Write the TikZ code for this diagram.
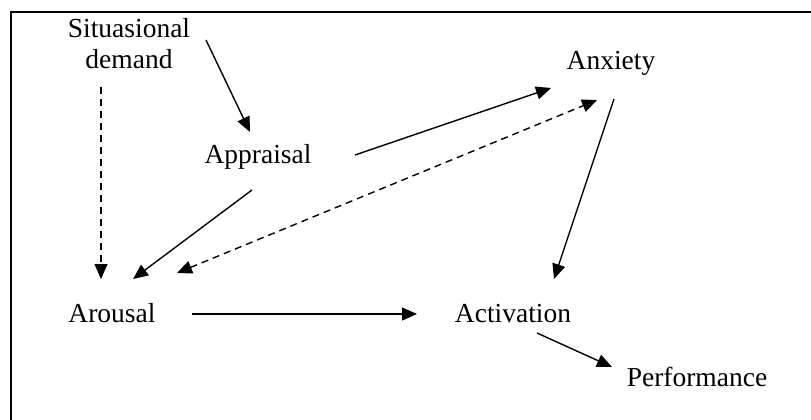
\documentclass[tikz,border=0pt]{standalone}
\usepackage{fontspec}
\setmainfont{Liberation Serif}
\usetikzlibrary{arrows.meta,calc}
\begin{document}
\begin{tikzpicture}[x=1pt,y=-1pt,
  lbl/.style={inner sep=0pt,anchor=base,font=\fontsize{27.5}{30}\selectfont},
  arr/.style={line width=1.4pt,-{Triangle[length=15pt,width=13pt]}},
  darr/.style={arr,dash pattern=on 7pt off 5pt},
  frame/.style={line width=2pt}]
\useasboundingbox (0,0) rectangle (811,420);
\draw[frame] (811,12) -- (11,12) -- (11,420);
\node[lbl,align=center] (sit) at (129,68) {Situasional\\demand};
\node[lbl] (app) at (258,163) {Appraisal};
\node[lbl] (anx) at (611,70) {Anxiety};
\node[lbl] (aro) at (112,322) {Arousal};
\node[lbl] (act) at (513,322) {Activation};
\node[lbl] (perf) at (697,386) {Performance};
\draw[arr] ($(sit.base)+(77,-28)$) -- ($(app.base)+(-8,-31)$);
\draw[darr] ($(sit.base)+(-28,19)$) -- ($(aro.base)+(-11,-43)$);
\draw[arr] ($(app.base)+(-6,27)$) -- ($(aro.base)+(21,-43)$);
\draw[arr] ($(app.base)+(97,-8)$) -- ($(anx.base)+(-60,18)$);
\draw[darr,{Triangle[length=15pt,width=13pt]}-{Triangle[length=15pt,width=13pt]}] ($(aro.base)+(65,-49)$) -- ($(anx.base)+(-14,30)$);
\draw[arr] ($(anx.base)+(3,29)$) -- ($(act.base)+(41,-43)$);
\draw[arr] ($(aro.base)+(80,-8)$) -- ($(act.base)+(-96,-8)$);
\draw[arr] ($(act.base)+(24,11)$) -- ($(perf.base)+(-85,-19)$);
\end{tikzpicture}
\end{document}
